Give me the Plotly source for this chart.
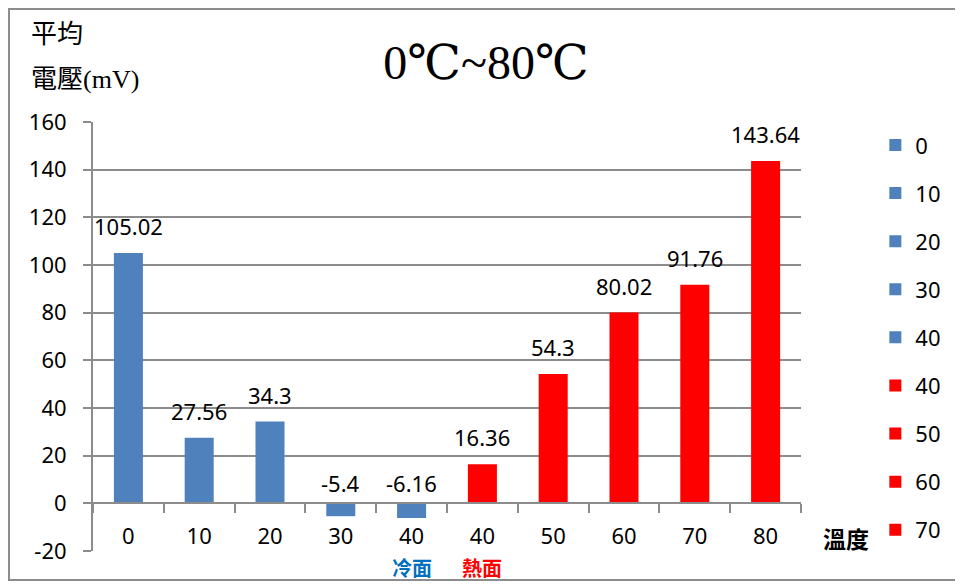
import plotly.graph_objects as go

categories = ["0", "10", "20", "30", "40", "40", "50", "60", "70", "80"]
values = [105.02, 27.56, 34.3, -5.4, -6.16, 16.36, 54.3, 80.02, 91.76, 143.64]
sides = ["cold", "cold", "cold", "cold", "cold", "hot", "hot", "hot", "hot", "hot"]
legend_shown = [True] * 9 + [False]
y_ticks = [-20, 0, 20, 40, 60, 80, 100, 120, 140, 160]
y_tick_text = ["-20", "0", "20", "40", "60", "80", "100", "120", "140", "160"]

BLUE = "#4F81BD"
RED = "#FF0000"
GRAY = "#8C8C8C"
NUM_FONT = "Noto Sans, Lato, sans-serif"
SERIF_CJK = "Liberation Serif, Noto Sans CJK TC, serif"
CJK = "Noto Sans CJK TC, sans-serif"

fig = go.Figure()
for i, (c, v, s, show) in enumerate(zip(categories, values, sides, legend_shown)):
    fig.add_trace(go.Bar(
        x=[i], y=[v], name=c,
        marker=dict(color=BLUE if s == "cold" else RED, line=dict(width=0)),
        width=0.41, showlegend=show, legendgroup=f"g{i}",
        hoverinfo="skip",
    ))

# data labels
for i, v in enumerate(values):
    fig.add_annotation(
        x=i, y=max(v, 0), xref="x", yref="y", text=str(v), showarrow=False,
        yanchor="middle", yshift=27 if v > 0 else 20,
        font=dict(family=NUM_FONT, size=22, color="#000000"),
    )

# axis titles and side labels
fig.add_annotation(x=0, y=1.203, xref="paper", yref="paper", text="平均", showarrow=False,
                   xanchor="left", yanchor="middle", xshift=-64,
                   font=dict(family=SERIF_CJK, size=26, color="#000"))
fig.add_annotation(x=0, y=1.098, xref="paper", yref="paper", text="電壓(mV)", showarrow=False,
                   xanchor="left", yanchor="middle", xshift=-64,
                   font=dict(family=SERIF_CJK, size=26, color="#000"))
fig.add_annotation(x=1.0636, y=0.0303, xref="paper", yref="paper", text="<b>溫度</b>", showarrow=False,
                   xanchor="center", yanchor="middle",
                   font=dict(family=CJK, size=23, color="#000"))
fig.add_annotation(x=4, y=-0.038, xref="x", yref="paper", text="<b>冷面</b>", showarrow=False,
                   xanchor="center", yanchor="middle",
                   font=dict(family=CJK, size=20, color="#0070C0"))
fig.add_annotation(x=5, y=-0.038, xref="x", yref="paper", text="<b>熱面</b>", showarrow=False,
                   xanchor="center", yanchor="middle",
                   font=dict(family=CJK, size=20, color=RED))

# outer chart border
fig.add_shape(type="rect", xref="paper", yref="paper",
              x0=-0.1186, x1=1.245, y0=-0.0676, y1=1.2634,
              line=dict(color=GRAY, width=2), fillcolor="rgba(0,0,0,0)", layer="below")

fig.update_layout(
    width=955, height=576,
    margin=dict(l=85, r=162, t=114, b=33, autoexpand=False),
    paper_bgcolor="white", plot_bgcolor="white",
    barmode="overlay",
    title=dict(text="0℃~80℃", x=0.5005, xref="container", y=0.906, yref="container",
               xanchor="center", yanchor="middle",
               font=dict(family="Liberation Serif, DejaVu Serif, serif", size=48, color="#000")),
    xaxis=dict(
        range=[-0.5, 9.5], tickmode="array", tickvals=list(range(len(categories))),
        ticktext=categories, ticks="", showgrid=False, zeroline=False,
        showline=True, linecolor=GRAY, linewidth=2,
        anchor="free", position=20 / 180,
        ticklabelstandoff=13,
        tickfont=dict(family=NUM_FONT, size=22, color="#000"),
        minor=dict(tickmode="linear", tick0=-0.5, dtick=1, ticks="outside",
                   ticklen=9, tickwidth=2, tickcolor=GRAY, showgrid=False),
    ),
    yaxis=dict(
        range=[-20, 160], tickmode="array", tickvals=y_ticks, ticktext=y_tick_text,
        ticks="outside", ticklen=8, tickwidth=2, tickcolor=GRAY,
        showline=True, linecolor=GRAY, linewidth=2,
        showgrid=True, gridcolor=GRAY, gridwidth=1.5, zeroline=False,
        ticklabelstandoff=12,
        tickfont=dict(family=NUM_FONT, size=22, color="#000"),
    ),
    legend=dict(x=1.105, y=0.995, xanchor="left", yanchor="top",
                font=dict(family=NUM_FONT, size=22, color="#000"),
                tracegroupgap=16.5, bgcolor="rgba(0,0,0,0)"),
    showlegend=True,
)

fig.write_html("out.html")
